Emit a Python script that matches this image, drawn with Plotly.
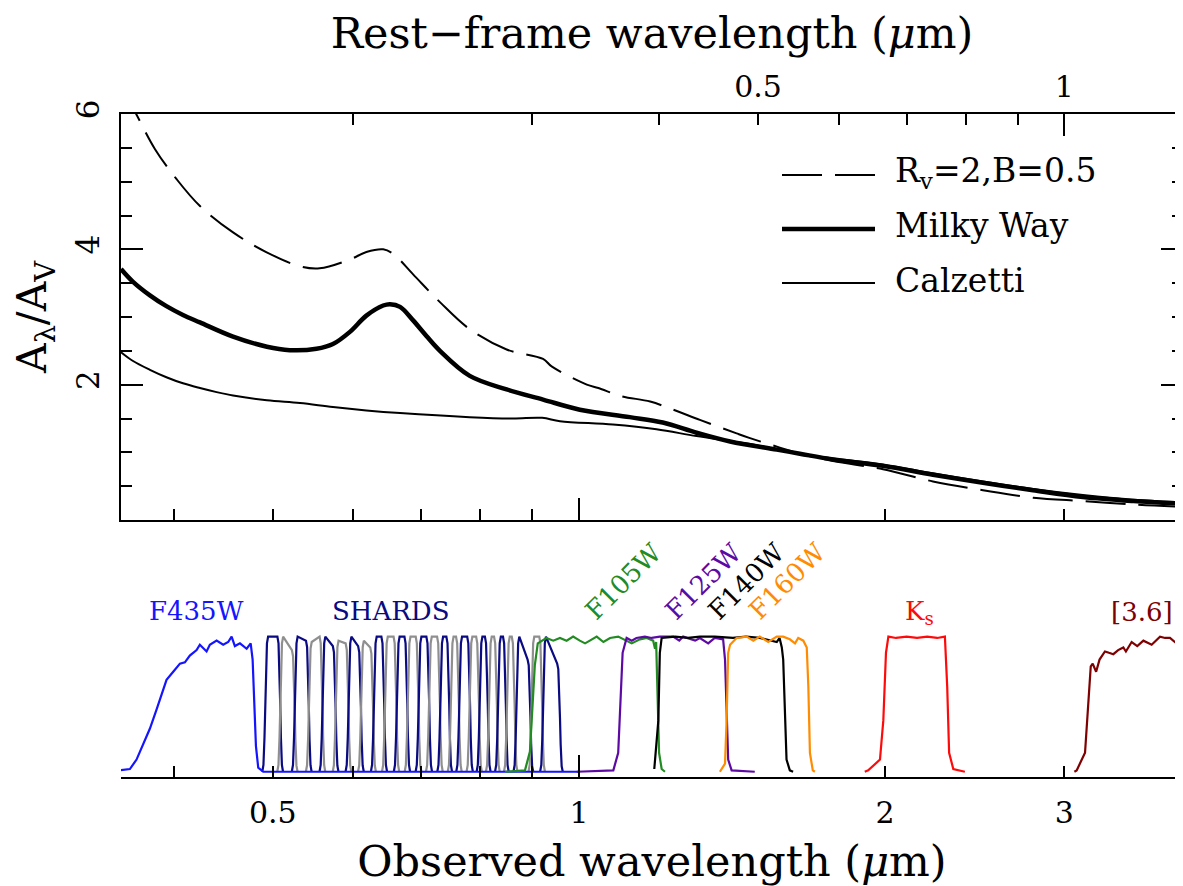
import numpy as np
import plotly.graph_objects as go

# ------------------------------------------------------------------
# Data
# ------------------------------------------------------------------
ONE_PLUS_Z = 3.0  # observed / rest-frame wavelength ratio

# Extinction curves: observed wavelength (um) vs A_lambda / A_V
rv2_wave = [0.3546, 0.367, 0.383, 0.402, 0.424, 0.457, 0.4926, 0.5317, 0.556, 0.5954,
            0.618, 0.642, 0.657, 0.687, 0.730, 0.781, 0.849, 0.922, 0.940, 1.018,
            1.045, 1.101, 1.175, 1.238, 1.315, 1.429, 1.473, 1.576, 1.649, 1.778,
            1.991, 2.229, 2.496, 2.796, 3.13, 3.51, 3.926]
rv2_val = [6.42, 6.00, 5.48, 5.04, 4.64, 4.25, 3.96, 3.75, 3.72, 3.85,
           3.96, 4.00, 3.93, 3.63, 3.22, 2.82, 2.52, 2.38, 2.27, 2.00,
           1.95, 1.83, 1.75, 1.63, 1.48, 1.28, 1.21, 1.07, 0.98, 0.87,
           0.75, 0.57, 0.44, 0.33, 0.28, 0.23, 0.195]

mw_wave = [0.3546, 0.3644, 0.3786, 0.393, 0.408, 0.424, 0.457, 0.4934, 0.5196, 0.552,
           0.573, 0.5954, 0.618, 0.642, 0.652, 0.667, 0.687, 0.708, 0.730, 0.781,
           0.849, 0.922, 1.002, 1.122, 1.209, 1.305, 1.408, 1.565, 1.649, 1.778,
           1.991, 2.229, 2.496, 2.796, 3.13, 3.51, 3.926]
mw_val = [3.71, 3.52, 3.32, 3.16, 3.03, 2.92, 2.71, 2.56, 2.51, 2.53,
          2.60, 2.78, 3.02, 3.17, 3.19, 3.15, 2.95, 2.72, 2.50, 2.13,
          1.93, 1.78, 1.63, 1.52, 1.44, 1.29, 1.16, 1.04, 0.98, 0.895,
          0.80, 0.67, 0.55, 0.44, 0.34, 0.28, 0.24]

cal_wave = [0.3546, 0.3644, 0.3786, 0.393, 0.408, 0.424, 0.4403, 0.457, 0.4934, 0.5317,
            0.573, 0.618, 0.667, 0.781, 0.861, 0.92, 0.958, 1.080, 1.192, 1.305,
            1.462, 1.649, 1.778, 1.991, 2.229, 2.496, 2.796, 3.13, 3.51, 3.926]
cal_val = [2.48, 2.35, 2.22, 2.11, 2.02, 1.95, 1.89, 1.84, 1.77, 1.73,
           1.67, 1.62, 1.58, 1.52, 1.50, 1.51, 1.46, 1.41, 1.34, 1.24,
           1.13, 0.98, 0.91, 0.82, 0.69, 0.57, 0.46, 0.37, 0.30, 0.26]

# Filter transmission curves (observed wavelength um, normalised transmission)
f435w_wave = [0.3537, 0.3618, 0.3673, 0.3729, 0.3786, 0.3843, 0.3901, 0.3931, 0.3991, 0.4052,
              0.4098, 0.4144, 0.4208, 0.4239, 0.4304, 0.4336, 0.4403, 0.4469, 0.4520, 0.4555,
              0.4589, 0.4642, 0.4713, 0.4756, 0.4777, 0.4794, 0.4813, 0.4838, 0.4893, 0.998]
f435w_trans = [0.01, 0.02, 0.09, 0.20, 0.32, 0.46, 0.60, 0.68, 0.74, 0.80,
               0.81, 0.86, 0.90, 0.94, 0.89, 0.94, 0.97, 0.94, 0.96, 1.00,
               0.93, 0.95, 0.91, 0.95, 0.83, 0.51, 0.19, 0.03, 0.0, 0.0]

shards_center = [0.500, 0.517, 0.534, 0.551, 0.568, 0.585, 0.602, 0.619, 0.636, 0.653,
                 0.670, 0.687, 0.704, 0.721, 0.738, 0.755, 0.772, 0.789, 0.806, 0.823,
                 0.840, 0.857, 0.882, 0.909, 0.940]
shards_fwhm = [0.017, 0.017, 0.017, 0.017, 0.017, 0.017, 0.017, 0.017, 0.015, 0.017,
               0.016, 0.017, 0.017, 0.018, 0.015, 0.014, 0.019, 0.017, 0.015, 0.015,
               0.015, 0.015, 0.028, 0.022, 0.036]
shards_top_blue = [1.0, 1.0, 1.0, 0.96, 1.0, 0.97, 1.0, 0.97, 1.0, 1.0,
                   1.0, 1.0, 1.0, 1.0, 1.0, 1.0, 1.0, 1.0, 1.0, 1.0,
                   1.0, 1.0, 1.0, 1.0, 1.0]
shards_top_red = [1.0, 0.90, 0.97, 1.0, 0.93, 0.95, 0.93, 0.92, 1.0, 1.0,
                  1.0, 1.0, 1.0, 1.0, 1.0, 1.0, 1.0, 1.0, 1.0, 1.0,
                  1.0, 1.0, 0.83, 1.0, 0.80]

f105w_wave = [0.846, 0.885, 0.895, 0.9005, 0.905, 0.911, 0.9155, 0.929, 0.9435, 0.958,
              0.9725, 0.987, 1.002, 1.014, 1.025, 1.041, 1.057, 1.073, 1.093, 1.114,
              1.127, 1.148, 1.166, 1.183, 1.188, 1.191, 1.195, 1.199, 1.206, 1.215]
f105w_trans = [0.0, 0.01, 0.15, 0.47, 0.79, 0.95, 0.96, 0.99, 0.97, 0.99,
               0.97, 1.00, 0.97, 0.95, 0.97, 1.00, 0.96, 0.99, 1.00, 0.97,
               0.95, 0.98, 0.99, 0.97, 0.91, 0.96, 0.63, 0.14, 0.02, 0.0]

f125w_wave = [0.995, 1.081, 1.093, 1.099, 1.104, 1.114, 1.127, 1.139, 1.161, 1.179,
              1.201, 1.238, 1.255, 1.266, 1.301, 1.315, 1.340, 1.360, 1.386, 1.392,
              1.397, 1.402, 1.413, 1.489]
f125w_trans = [0.0, 0.01, 0.14, 0.50, 0.88, 0.99, 0.97, 0.99, 1.00, 0.99,
               1.00, 1.00, 0.97, 1.00, 0.97, 0.99, 0.95, 0.99, 0.98, 0.83,
               0.38, 0.09, 0.01, 0.0]

f140w_wave = [1.186, 1.197, 1.201, 1.206, 1.243, 1.280, 1.315, 1.360, 1.417, 1.460,
              1.506, 1.553, 1.565, 1.575, 1.583, 1.588, 1.594, 1.600, 1.612, 1.624]
f140w_trans = [0.02, 0.38, 0.88, 0.99, 1.00, 0.99, 1.00, 1.00, 0.99, 1.00,
               0.99, 0.97, 0.96, 0.99, 0.92, 0.83, 0.38, 0.09, 0.01, 0.0]

f160w_wave = [1.376, 1.392, 1.397, 1.402, 1.408, 1.429, 1.462, 1.484, 1.506, 1.535,
              1.565, 1.588, 1.612, 1.631, 1.643, 1.662, 1.675, 1.681, 1.687, 1.698, 1.706]
f160w_trans = [0.0, 0.06, 0.38, 0.88, 0.94, 0.99, 1.00, 0.97, 1.00, 0.96,
               1.00, 1.00, 0.98, 0.95, 0.99, 0.97, 0.92, 0.63, 0.14, 0.01, 0.0]

ks_wave = [1.910, 1.925, 1.977, 1.992, 2.004, 2.015, 2.050, 2.100, 2.150, 2.200,
           2.250, 2.290, 2.302, 2.312, 2.334, 2.396]
ks_trans = [0.0, 0.01, 0.09, 0.38, 0.88, 1.00, 0.99, 1.00, 0.99, 1.00,
            0.99, 1.00, 0.63, 0.14, 0.02, 0.0]

irac1_wave = [3.070, 3.086, 3.145, 3.170, 3.186, 3.200, 3.225, 3.250, 3.290, 3.320,
              3.353, 3.390, 3.430, 3.450, 3.495, 3.540, 3.589, 3.657, 3.700, 3.727,
              3.770, 3.812, 3.869, 3.890, 3.910, 3.930, 3.960, 4.000]
irac1_trans = [0.0, 0.01, 0.14, 0.50, 0.78, 0.80, 0.74, 0.83, 0.89, 0.88,
               0.87, 0.90, 0.92, 0.89, 0.96, 0.93, 0.97, 0.94, 0.98, 1.00,
               0.99, 0.99, 0.95, 0.96, 0.63, 0.30, 0.05, 0.0]

# Label positions (observed wavelength um, transmission units)
label_text = ["F435W", "SHARDS", "F105W", "F125W", "F140W", "F160W",
              "K<sub>s</sub>", "[3.6]"]
label_wave = [0.421, 0.653, 1.107, 1.327, 1.462, 1.603, 2.162, 3.58]
label_level = [1.19, 1.19, 1.41, 1.41, 1.41, 1.41, 1.18, 1.18]

# Axis ticks
obs_label_vals = [0.5, 1, 2, 3]
obs_label_text = ["0.5", "1", "2", "3"]
obs_minor_vals = [0.4, 0.6, 0.7, 0.8, 0.9]
rest_label_vals = [0.5, 1]
rest_label_text = ["0.5", "1"]
rest_minor_vals = [0.2, 0.3, 0.4, 0.5, 0.6, 0.7, 0.8, 0.9]
y_major = [2, 4, 6]
y_minor = [0.5, 1, 1.5, 2.5, 3, 3.5, 4.5, 5, 5.5]

# ------------------------------------------------------------------
# Styles
# ------------------------------------------------------------------
NAVY = "#0a0a82"
GRAY = "#8f8f8f"
C_F435 = "#1414ff"
C_F105 = "#228b22"
C_F125 = "#5c0aa3"
C_F140 = "#000000"
C_F160 = "#ff8c00"
C_KS = "#ff0a0a"
C_IRAC = "#7f0000"
label_colors = [C_F435, NAVY, C_F105, C_F125, C_F140, C_F160, C_KS, C_IRAC]

SERIF = "DejaVu Serif"
DASH = "40px,13px"

fig = go.Figure()

# ---- top panel: extinction curves
fig.add_trace(go.Scatter(x=rv2_wave, y=rv2_val, mode="lines", name="R_V=2,B=0.5",
                         line=dict(color="black", width=2, dash=DASH, shape="spline", smoothing=1.0),
                         xaxis="x", yaxis="y", showlegend=False, hoverinfo="skip"))
fig.add_trace(go.Scatter(x=mw_wave, y=mw_val, mode="lines", name="Milky Way",
                         line=dict(color="black", width=4.5, shape="spline", smoothing=1.0),
                         xaxis="x", yaxis="y", showlegend=False, hoverinfo="skip"))
fig.add_trace(go.Scatter(x=cal_wave, y=cal_val, mode="lines", name="Calzetti",
                         line=dict(color="black", width=2, shape="spline", smoothing=1.0),
                         xaxis="x", yaxis="y", showlegend=False, hoverinfo="skip"))

# ---- bottom panel: filters
edge_off = [-1.0, -0.6, -0.25, 0.0, 0.25, 0.6, 1.0]
edge_rise = [0.0, 0.05, 0.25, 0.5, 0.75, 0.95, 1.0]
for i, (c, w) in enumerate(zip(shards_center, shards_fwhm)):
    e = 0.0065 * c
    lo, hi = c - w / 2, c + w / 2
    tb, tr = shards_top_blue[i], shards_top_red[i]
    xs = [lo + o * e for o in edge_off] + [hi + o * e for o in edge_off]
    ys = [r * tb for r in edge_rise] + [r * tr for r in edge_rise[::-1]]
    fig.add_trace(go.Scatter(x=xs, y=ys, mode="lines",
                             line=dict(color=NAVY if i % 2 == 0 else GRAY, width=2.2),
                             xaxis="x2", yaxis="y2", showlegend=False, hoverinfo="skip"))

for wv, tr, col in [(f435w_wave, f435w_trans, C_F435),
                    (f105w_wave, f105w_trans, C_F105),
                    (f125w_wave, f125w_trans, C_F125),
                    (f140w_wave, f140w_trans, C_F140),
                    (f160w_wave, f160w_trans, C_F160),
                    (ks_wave, ks_trans, C_KS),
                    (irac1_wave, irac1_trans, C_IRAC)]:
    fig.add_trace(go.Scatter(x=wv, y=tr, mode="lines", line=dict(color=col, width=2.2),
                             xaxis="x2", yaxis="y2", showlegend=False, hoverinfo="skip"))

# empty traces so that the extra (tick-only) axes get drawn
for xa, ya in [("x3", "y"), ("x4", "y"), ("x5", "y2"), ("x", "y3")]:
    fig.add_trace(go.Scatter(x=[], y=[], mode="lines", xaxis=xa, yaxis=ya,
                             showlegend=False, hoverinfo="skip"))

# ------------------------------------------------------------------
# Layout (page has an 8px body margin; figure is sized to fit the window)
# ------------------------------------------------------------------
OFF = 8
W, H = 1183 - OFF, 886 - OFF
ML, MR, MT = 121 - OFF, 0, 114 - OFF
MB = H - (777 - OFF)
PH = H - MT - MB
split = (777 - 520) / PH
xr = [np.log10(0.3546), np.log10(3.926)]
tick_font = dict(family=SERIF, size=30, color="black")
base_x = dict(type="log", range=xr, autorange=False, showgrid=False, zeroline=False,
              automargin=False, tickcolor="black", tickwidth=2)


def minor_ticks(vals):
    return dict(tickmode="array", tickvals=vals, ticks="inside", ticklen=11,
                tickwidth=2, tickcolor="black")


rest_top_vals = [r * ONE_PLUS_Z for r in rest_label_vals]
rest_minor_obs = [r * ONE_PLUS_Z for r in rest_minor_vals]

fig.update_layout(
    width=W, height=H, autosize=False,
    margin=dict(l=ML, r=MR, t=MT, b=MB, pad=0),
    paper_bgcolor="white", plot_bgcolor="white", showlegend=False,
    # top panel, bottom edge
    xaxis=dict(**base_x, domain=[0, 1], anchor="y", showline=True, linecolor="black", linewidth=2,
               ticks="inside", tickmode="array", tickvals=[1], ticklen=22,
               showticklabels=False,
               minor=minor_ticks(obs_minor_vals + [0.5, 2, 3])),
    # top panel, top edge ticks (rest frame)
    xaxis3=dict(**base_x, overlaying="x", anchor="y", side="top", showline=True,
                linecolor="black", linewidth=2, ticks="inside", tickmode="array",
                tickvals=[1 * ONE_PLUS_Z], ticklen=22, showticklabels=False,
                minor=minor_ticks(rest_minor_obs)),
    # top panel, rest-frame labels and title
    xaxis4=dict(**base_x, overlaying="x", anchor="y", side="top", showline=False,
                ticks="", tickmode="array", tickvals=rest_top_vals, ticktext=rest_label_text,
                tickfont=tick_font, ticklabelstandoff=10,
                title=dict(text="Rest\u2212frame wavelength (<i>\u03bc</i>m)",
                           font=dict(family=SERIF, size=43, color="black"), standoff=27)),
    # bottom panel axis
    xaxis2=dict(**base_x, domain=[0, 1], anchor="y2", showline=True, linecolor="black",
                linewidth=2, ticks="inside", tickmode="array", tickvals=obs_label_vals,
                ticktext=obs_label_text, ticklen=11, tickfont=tick_font,
                ticklabelstandoff=8, minor=minor_ticks(obs_minor_vals),
                title=dict(text="Observed wavelength (<i>\u03bc</i>m)",
                           font=dict(family=SERIF, size=43, color="black"), standoff=26)),
    # long tick at 1 um on the bottom axis
    xaxis5=dict(**base_x, overlaying="x2", anchor="y2", side="bottom", showline=False,
                ticks="inside", tickmode="array", tickvals=[1], ticklen=22,
                showticklabels=False),
    yaxis=dict(domain=[split, 1], anchor="x", range=[0, 6], autorange=False,
               showgrid=False, zeroline=False, automargin=False,
               showline=True, linecolor="black", linewidth=2,
               ticks="inside", tickmode="array", tickvals=y_major, ticklen=22,
               tickwidth=2, tickcolor="black", tickfont=dict(family=SERIF, size=31, color="black"),
               tickangle=-90, ticklabelstandoff=8,
               minor=minor_ticks(y_minor),
               title=dict(text="A<sub>\u03bb</sub>/A<sub>V</sub>",
                          font=dict(family=SERIF, size=41, color="black"), standoff=11)),
    yaxis3=dict(overlaying="y", anchor="x", side="right", range=[0, 6], autorange=False,
                showgrid=False, zeroline=False, automargin=False, showline=False,
                ticks="inside", tickmode="array", tickvals=y_major, ticklen=22,
                tickwidth=2, tickcolor="black", showticklabels=False,
                minor=minor_ticks(y_minor)),
    yaxis2=dict(domain=[0, split], anchor="x2", range=[-0.039, 1.863], autorange=False,
                visible=False, showgrid=False, zeroline=False),
)


# legend drawn as a key in paper coordinates (page pixels -> paper)
def px2paper_x(px):
    return (px - OFF - ML) / (W - ML - MR)


def px2paper_y(py):
    return (H - MB - (py - OFF)) / PH


legend_items = [("R<sub>v</sub>=2,B=0.5", dict(color="black", width=2, dash=DASH), 175),
                ("Milky Way", dict(color="black", width=4.5), 229),
                ("Calzetti", dict(color="black", width=2), 283)]
shapes = []
annotations = []
for txt, ln, py in legend_items:
    shapes.append(dict(type="line", xref="paper", yref="paper",
                       x0=px2paper_x(782), x1=px2paper_x(875),
                       y0=px2paper_y(py), y1=px2paper_y(py), line=ln))
    annotations.append(dict(text=txt, xref="paper", yref="paper", x=px2paper_x(893),
                            y=px2paper_y(py - 3), xanchor="left", yanchor="middle",
                            showarrow=False, font=dict(family=SERIF, size=33, color="black")))

for txt, wv, lv, col in zip(label_text, label_wave, label_level, label_colors):
    rotated = txt.startswith("F1")
    annotations.append(dict(text=txt, xref="x2", yref="y2", x=np.log10(wv), y=lv,
                            xanchor="center", yanchor="middle", showarrow=False,
                            textangle=-45 if rotated else 0,
                            font=dict(family=SERIF, size=26, color=col)))

fig.update_layout(shapes=shapes, annotations=annotations)

fig.write_html("out.html")
